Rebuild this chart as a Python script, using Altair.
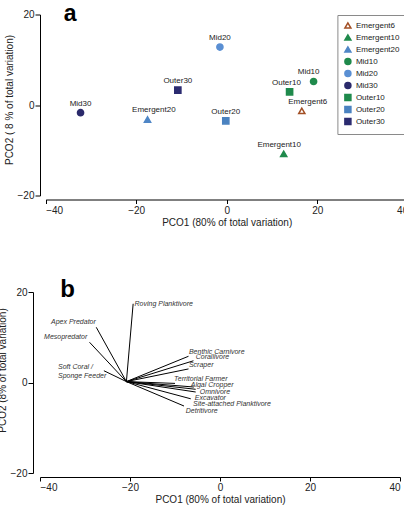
import altair as alt
import pandas as pd

FONT = "Liberation Sans"

# ---- Panel a: PCO scores of each site group ----
groups = ["Emergent6", "Emergent10", "Emergent20", "Mid10", "Mid20", "Mid30",
          "Outer10", "Outer20", "Outer30"]
pco1 = [16.6, 12.6, -17.5, 19.2, -1.5, -32.3, 13.9, -0.2, -10.8]
pco2 = [-1.3, -10.8, -3.2, 5.2, 12.8, -1.7, 2.9, -3.5, 3.3]
# small horizontal nudges of the point labels (PCO1 units)
label_shift = [1.3, -1.0, 1.4, -1.1, 0.0, 0.0, -0.7, 0.0, 0.0]

fill_colors = ["#ffffff", "#1f8a4c", "#4f86c6", "#1f8a4c", "#5a8fd3", "#2b2a6b",
               "#1f8a4c", "#4a82c0", "#2b2b70"]
stroke_colors = ["#a24f25", "#1f8a4c", "#4f86c6", "#1f8a4c", "#5a8fd3", "#2b2a6b",
                 "#1f8a4c", "#4a82c0", "#2b2b70"]
shapes = ["triangle-up", "triangle-up", "triangle-up", "circle", "circle", "circle",
          "square", "square", "square"]

# ---- Panel b: functional-group vectors ----
guilds = ["Roving Planktivore", "Apex Predator", "Mesopredator", "Soft Coral /\nSponge Feeder",
          "Benthic Carnivore", "Corallivore", "Scraper", "Territorial Farmer",
          "Algal Cropper", "Omnivore", "Excavator", "Site-attached Planktivore",
          "Detritivore"]
vec_x = [-19.3, -27.5, -29.0, -25.8, -7.0, -5.9, -7.0, -10.0, -5.8, -5.4, -5.4, -6.5, -8.0]
vec_y = [17.4, 12.2, 8.9, 2.6, 5.8, 4.8, 3.0, -0.2, -1.0, -1.5, -2.1, -3.6, -5.2]
lab_x = [-19.0, -27.6, -29.5, -36.0, -6.9, -5.4, -6.9, -10.2, -6.5, -4.5, -5.6, -6.0, -7.6]
lab_y = [17.3, 13.3, 10.0, 3.4, 6.8, 5.7, 3.8, 0.7, -0.6, -2.1, -3.4, -4.8, -6.3]
origin_x, origin_y = -20.8, 0.2
right_aligned = ["Apex Predator", "Mesopredator"]

x_title = "PCO1 (80% of total variation)"

pts = pd.DataFrame({"group": groups, "pco1": pco1, "pco2": pco2,
                    "lx": [a + b for a, b in zip(pco1, label_shift)]})
vec = pd.DataFrame({"guild": guilds, "x0": origin_x, "y0": origin_y,
                    "x1": vec_x, "y1": vec_y, "lx": lab_x, "ly": lab_y})


def x_axis(title):
    return alt.Axis(values=[-40, -20, 0, 20, 40], title=title, offset=4, tickSize=4,
                    labelPadding=1.5, titlePadding=2, grid=False)


# ---------------- panel a ----------------
xa = alt.Scale(domain=[-40, 40], range=[5.7, 367.7], nice=False, zero=False)
ya = alt.Scale(domain=[-20, 20], nice=False, zero=False)
ya_axis = alt.Axis(values=[-20, 0, 20], title="PCO2 ( 8 % of total variation)",
                   offset=0, tickSize=5, labelPadding=1, titlePadding=3,
                   titleY=85, grid=False)

legend = alt.Legend(title=None, orient="none", legendX=297.4, legendY=0.5,
                    padding=6.5, strokeColor="#8a8a8a", fillColor="white",
                    labelFont=FONT, labelFontSize=8, labelColor="#222",
                    symbolSize=36, symbolStrokeWidth=1.5, rowPadding=0,
                    labelOffset=4)

base_a = alt.Chart(pts)
points_a = base_a.mark_point(filled=False, size=38, strokeWidth=1.5, opacity=1).encode(
    x=alt.X("pco1:Q", scale=xa, axis=x_axis(x_title)),
    y=alt.Y("pco2:Q", scale=ya, axis=ya_axis),
    fill=alt.Fill("group:N", scale=alt.Scale(domain=groups, range=fill_colors), legend=legend),
    stroke=alt.Stroke("group:N", scale=alt.Scale(domain=groups, range=stroke_colors), legend=legend),
    shape=alt.Shape("group:N", scale=alt.Scale(domain=groups, range=shapes), legend=legend),
)
labels_a = base_a.mark_text(font=FONT, fontSize=8, color="#222", dy=-9, baseline="middle").encode(
    x=alt.X("lx:Q", scale=xa), y=alt.Y("pco2:Q", scale=ya), text="group:N")
tag_a = alt.Chart(pd.DataFrame({"t": ["a"]})).mark_text(
    font=FONT, fontSize=23, fontWeight="bold", align="left", baseline="alphabetic", color="black"
).encode(text="t:N", x=alt.value(23.7), y=alt.value(6.5))

panel_a = alt.layer(points_a, labels_a, tag_a).properties(width=368, height=181)

# ---------------- panel b ----------------
xb = alt.Scale(domain=[-40, 40], range=[0, 360], nice=False, zero=False)
yb = alt.Scale(domain=[-20, 20], nice=False, zero=False)
yb_axis = alt.Axis(values=[-20, 0, 20], title="PCO2 (8% of total variation)",
                   offset=7, tickSize=5, labelPadding=1, titlePadding=3,
                   titleY=78, grid=False)

base_b = alt.Chart(vec)
rules_b = base_b.mark_rule(color="black", strokeWidth=1).encode(
    x=alt.X("x0:Q", scale=xb, axis=x_axis(x_title)),
    y=alt.Y("y0:Q", scale=yb, axis=yb_axis),
    x2="x1:Q", y2="y1:Q")
text_style = dict(font=FONT, fontSize=7, fontStyle="italic", color="#333",
                  baseline="middle", lineBreak="\n", lineHeight=8.5)
labels_left = base_b.transform_filter(
    ~alt.FieldOneOfPredicate(field="guild", oneOf=right_aligned)
).mark_text(align="left", **text_style).encode(
    x=alt.X("lx:Q", scale=xb), y=alt.Y("ly:Q", scale=yb), text="guild:N")
labels_right = base_b.transform_filter(
    alt.FieldOneOfPredicate(field="guild", oneOf=right_aligned)
).mark_text(align="right", **text_style).encode(
    x=alt.X("lx:Q", scale=xb), y=alt.Y("ly:Q", scale=yb), text="guild:N")
tag_b = alt.Chart(pd.DataFrame({"t": ["b"]})).mark_text(
    font=FONT, fontSize=24, fontWeight="bold", align="left", baseline="alphabetic", color="black"
).encode(text="t:N", x=alt.value(20.2), y=alt.value(5))

panel_b = alt.layer(rules_b, labels_left, labels_right, tag_b).properties(width=368, height=181)

chart = alt.vconcat(panel_a, panel_b, spacing=50.5).properties(
    padding={"left": -3, "top": 2.5, "right": -5, "bottom": 0},
    background="white",
).configure_view(stroke=None).configure_axis(
    domainColor="black", tickColor="black", domainWidth=1, tickWidth=1,
    labelFont=FONT, titleFont=FONT, labelFontSize=10, titleFontSize=10,
    labelColor="#222", titleColor="#222", titleFontWeight="normal"
)

chart.save("out.html", embed_options={"renderer": "svg", "actions": False})
